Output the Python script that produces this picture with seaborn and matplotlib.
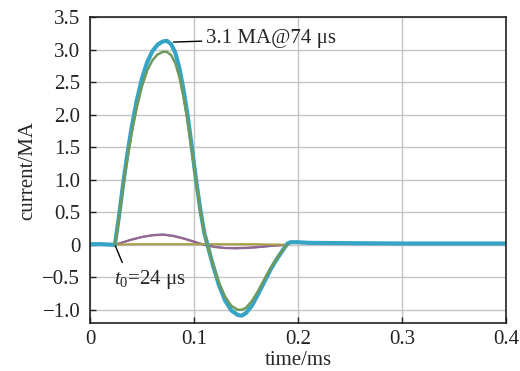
import numpy as np
import pandas as pd
import matplotlib
matplotlib.use("Agg")
import matplotlib.pyplot as plt
import seaborn as sns

# main current (blue), time in ms, current in MA
t_main = [0.0, 0.010, 0.024, 0.028, 0.032, 0.036, 0.040, 0.045, 0.050, 0.055,
          0.060, 0.065, 0.070, 0.074, 0.078, 0.082, 0.086, 0.090, 0.094, 0.098,
          0.102, 0.106, 0.110, 0.113, 0.118, 0.124, 0.130, 0.136, 0.142, 0.146,
          0.150, 0.156, 0.162, 0.168, 0.174, 0.180, 0.186, 0.190, 0.193, 0.200,
          0.210, 0.250, 0.300, 0.350, 0.400]
i_main = [0.01, 0.01, 0.0, 0.45, 0.95, 1.40, 1.80, 2.22, 2.56, 2.81,
          2.98, 3.08, 3.13, 3.14, 3.09, 2.96, 2.72, 2.38, 1.98, 1.50,
          1.00, 0.55, 0.18, 0.0, -0.30, -0.62, -0.86, -1.01, -1.08, -1.09,
          -1.05, -0.93, -0.75, -0.56, -0.37, -0.21, -0.07, 0.02, 0.04, 0.04,
          0.03, 0.025, 0.02, 0.02, 0.02]

# second probe (green), slightly lower amplitude
t_green = [0.024, 0.028, 0.032, 0.036, 0.040, 0.045, 0.050, 0.055, 0.060, 0.065,
           0.070, 0.074, 0.078, 0.082, 0.086, 0.090, 0.094, 0.098, 0.102, 0.106,
           0.110, 0.113, 0.118, 0.124, 0.130, 0.136, 0.142, 0.146, 0.150, 0.156,
           0.162, 0.168, 0.174, 0.180, 0.186, 0.190]
i_green = [0.0, 0.43, 0.90, 1.33, 1.71, 2.11, 2.44, 2.68, 2.84, 2.93,
           2.97, 2.97, 2.92, 2.80, 2.58, 2.27, 1.89, 1.44, 0.96, 0.53,
           0.17, 0.0, -0.28, -0.58, -0.80, -0.94, -1.00, -1.00, -0.97, -0.86,
           -0.70, -0.52, -0.35, -0.20, -0.07, 0.01]

# small currents
t_small = [0.024, 0.030, 0.040, 0.050, 0.060, 0.070, 0.080, 0.090, 0.100, 0.110,
           0.120, 0.130, 0.140, 0.150, 0.160, 0.170, 0.180, 0.190]
i_red = [0.0, 0.03, 0.08, 0.12, 0.145, 0.155, 0.135, 0.095, 0.045, 0.0,
         -0.035, -0.05, -0.05, -0.045, -0.035, -0.02, -0.01, 0.0]
i_purple = [0.0, 0.03, 0.08, 0.12, 0.15, 0.16, 0.14, 0.10, 0.05, 0.0,
            -0.03, -0.05, -0.055, -0.05, -0.04, -0.025, -0.01, 0.0]
i_olive = [0.0, 0.005, 0.01, 0.01, 0.01, 0.01, 0.01, 0.01, 0.01, 0.01,
           0.01, 0.01, 0.01, 0.01, 0.01, 0.005, 0.005, 0.0]

x_ticks = [0, 0.1, 0.2, 0.3, 0.4]
x_labels = ["0", "0.1", "0.2", "0.3", "0.4"]
y_ticks = [-1.0, -0.5, 0, 0.5, 1.0, 1.5, 2.0, 2.5, 3.0, 3.5]
y_labels = ["\u22121.0", "\u22120.5", "0", "0.5", "1.0", "1.5", "2.0", "2.5", "3.0", "3.5"]

sns.set_style("whitegrid")
plt.rcParams["font.family"] = ["Liberation Serif", "DejaVu Serif"]
plt.rcParams["mathtext.fontset"] = "custom"
plt.rcParams["mathtext.rm"] = "Liberation Serif"
plt.rcParams["mathtext.it"] = "Liberation Serif:italic"

fig = plt.figure(figsize=(5.2, 3.71), dpi=100)
ax = fig.add_axes([0.173, 0.13, 0.8, 0.823])

small = pd.DataFrame({"t": t_small * 3,
                      "i": i_red + i_purple + i_olive,
                      "probe": ["r"] * len(t_small) + ["p"] * len(t_small) + ["o"] * len(t_small)})
sns.lineplot(data=small, x="t", y="i", hue="probe", palette=["#c8605a", "#8a6a9a", "#a8a048"],
             lw=1.5, legend=False, ax=ax)
sns.lineplot(x=t_main, y=i_main, color="#36a4c4", lw=3.0, ax=ax)
sns.lineplot(x=t_green, y=i_green, color="#6f9a5c", lw=1.8, ax=ax)

ax.set_xlim(0, 0.4)
ax.set_ylim(-1.2, 3.5)
ax.set_xticks(x_ticks)
ax.set_xticklabels(x_labels)
ax.set_yticks(y_ticks)
ax.set_yticklabels(y_labels)
ax.grid(True, color="#c4c4c4", lw=1.0)
for s in ax.spines.values():
    s.set_color("#222222")
    s.set_linewidth(1.2)
ax.tick_params(direction="in", length=4, width=1, labelsize=15, colors="#222222",
               bottom=True, left=True, pad=7)
ax.tick_params(axis="x", pad=5)
ax.set_xlabel("time/ms", fontsize=15, labelpad=2)
ax.set_ylabel("current/MA", fontsize=15, labelpad=4)

ax.annotate("3.1 MA@74 \u03bcs", xy=(0.079, 3.12), xytext=(0.112, 3.17),
            fontsize=15, va="center", ha="left",
            arrowprops=dict(arrowstyle="-", color="black", lw=1.0, shrinkA=1, shrinkB=1))
ax.annotate("$t_0$=24 \u03bcs", xy=(0.024, 0.0), xytext=(0.023, -0.54),
            fontsize=15, va="center", ha="left",
            arrowprops=dict(arrowstyle="-", color="black", lw=1.0, relpos=(0.15, 1.0),
                            shrinkA=2, shrinkB=1))

fig.savefig("out.png", dpi=100)
